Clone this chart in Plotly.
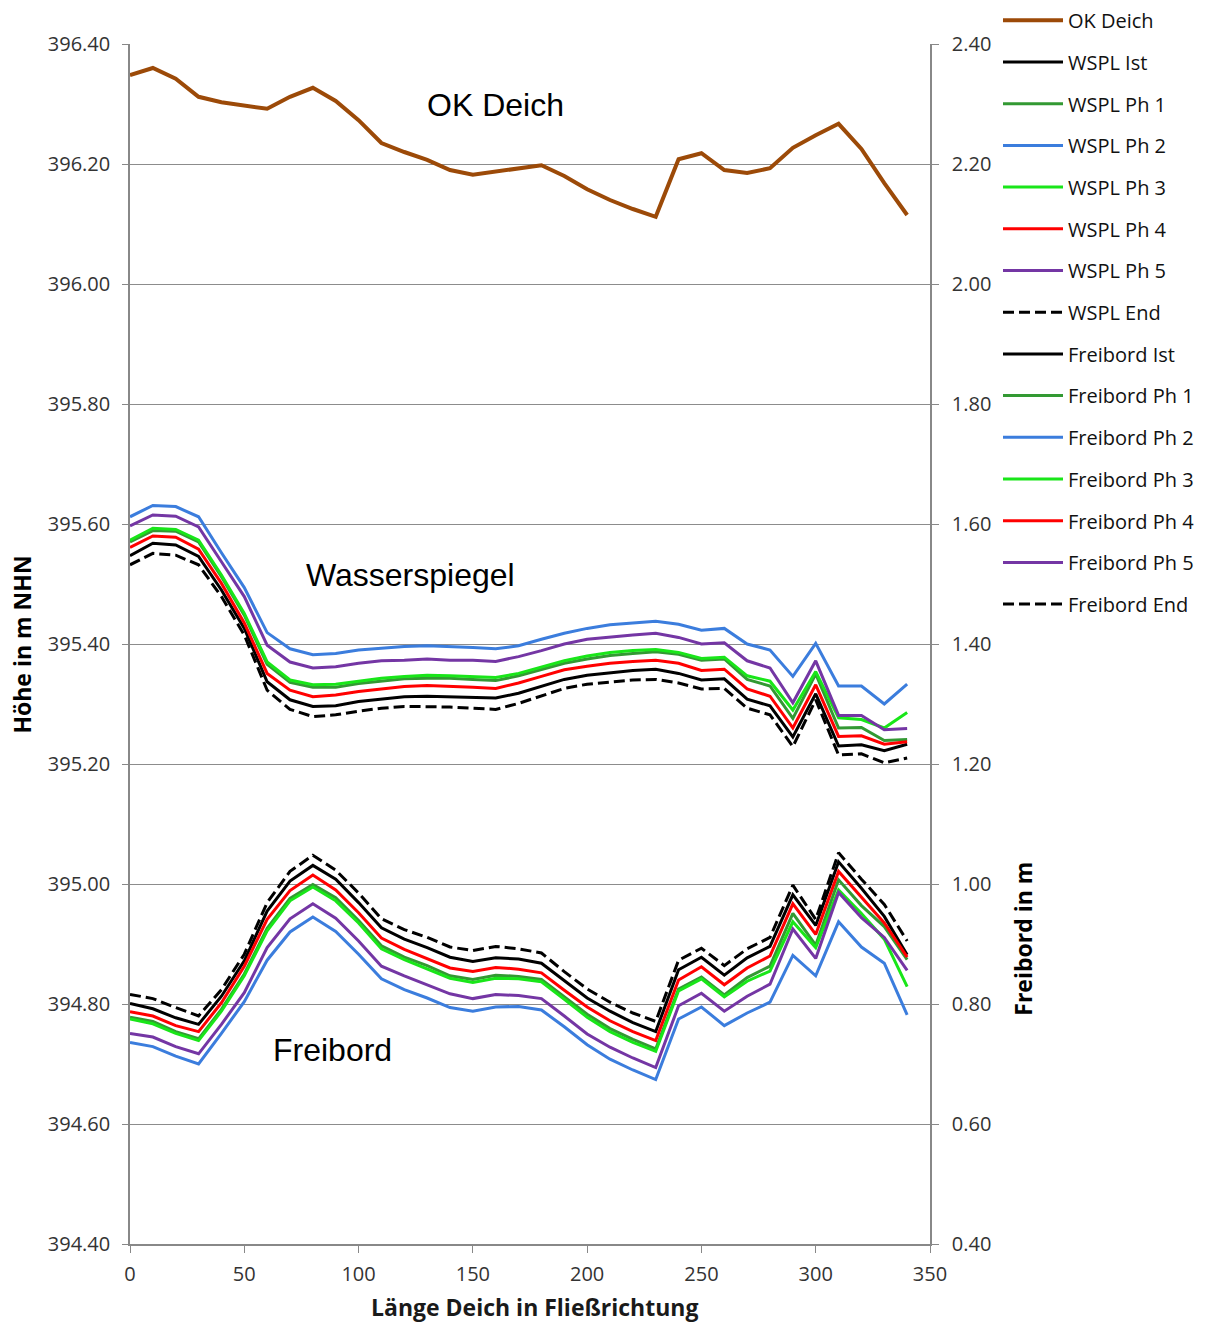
import plotly.graph_objects as go

x_m = [0, 10, 20, 30, 40, 50, 60, 70, 80, 90, 100, 110, 120, 130, 140, 150, 160, 170,
       180, 190, 200, 210, 220, 230, 240, 250, 260, 270, 280, 290, 300, 310, 320, 330, 340]

ok_deich = [396.348, 396.360, 396.342, 396.312, 396.303, 396.298, 396.292, 396.312, 396.327, 396.305,
            396.273, 396.235, 396.220, 396.207, 396.190, 396.182, 396.187, 396.193, 396.198, 396.180,
            396.158, 396.140, 396.125, 396.112, 396.208, 396.218, 396.190, 396.185, 396.193, 396.227,
            396.248, 396.267, 396.225, 396.168, 396.115]

wspl_ist = [395.547, 395.568, 395.565, 395.546, 395.490, 395.426, 395.337, 395.307, 395.296, 395.297,
            395.304, 395.308, 395.312, 395.313, 395.312, 395.311, 395.310, 395.318, 395.330, 395.341,
            395.348, 395.352, 395.356, 395.358, 395.351, 395.340, 395.342, 395.308, 395.297, 395.245,
            395.317, 395.230, 395.232, 395.222, 395.233]
wspl_ph1 = [395.570, 395.589, 395.588, 395.570, 395.512, 395.448, 395.366, 395.336, 395.328, 395.328,
            395.334, 395.338, 395.342, 395.343, 395.343, 395.341, 395.339, 395.347, 395.357, 395.368,
            395.375, 395.381, 395.384, 395.387, 395.383, 395.373, 395.375, 395.341, 395.330, 395.276,
            395.350, 395.260, 395.261, 395.239, 395.241]
wspl_ph2 = [395.612, 395.631, 395.629, 395.612, 395.552, 395.494, 395.419, 395.392, 395.382, 395.384,
            395.390, 395.393, 395.396, 395.397, 395.396, 395.394, 395.392, 395.397, 395.408, 395.418,
            395.426, 395.432, 395.435, 395.438, 395.433, 395.423, 395.426, 395.400, 395.390, 395.346,
            395.401, 395.330, 395.330, 395.300, 395.333]
wspl_ph3 = [395.573, 395.593, 395.591, 395.573, 395.515, 395.451, 395.370, 395.340, 395.332, 395.333,
            395.338, 395.343, 395.346, 395.348, 395.347, 395.346, 395.344, 395.351, 395.361, 395.372,
            395.380, 395.386, 395.389, 395.391, 395.386, 395.376, 395.378, 395.347, 395.338, 395.290,
            395.354, 395.277, 395.274, 395.260, 395.286]
wspl_ph4 = [395.561, 395.580, 395.578, 395.558, 395.501, 395.435, 395.351, 395.323, 395.312, 395.315,
            395.321, 395.325, 395.329, 395.331, 395.330, 395.328, 395.326, 395.335, 395.346, 395.357,
            395.363, 395.368, 395.371, 395.373, 395.368, 395.356, 395.358, 395.325, 395.313, 395.260,
            395.332, 395.246, 395.247, 395.233, 395.237]
wspl_ph5 = [395.597, 395.615, 395.613, 395.595, 395.537, 395.479, 395.398, 395.370, 395.360, 395.362,
            395.368, 395.372, 395.373, 395.375, 395.373, 395.373, 395.371, 395.379, 395.389, 395.400,
            395.408, 395.412, 395.415, 395.418, 395.411, 395.400, 395.402, 395.372, 395.360, 395.302,
            395.372, 395.281, 395.281, 395.257, 395.259]
wspl_end = [395.532, 395.551, 395.548, 395.532, 395.479, 395.415, 395.323, 395.291, 395.279, 395.282,
            395.288, 395.293, 395.296, 395.296, 395.295, 395.293, 395.291, 395.301, 395.313, 395.326,
            395.333, 395.337, 395.340, 395.341, 395.335, 395.325, 395.326, 395.293, 395.282, 395.229,
            395.307, 395.215, 395.217, 395.202, 395.210]

fb_ist = [0.801, 0.792, 0.777, 0.766, 0.813, 0.872, 0.955, 1.005, 1.031, 1.008,
          0.969, 0.927, 0.908, 0.894, 0.878, 0.871, 0.877, 0.875, 0.868, 0.839,
          0.810, 0.788, 0.769, 0.754, 0.857, 0.878, 0.848, 0.877, 0.896, 0.982,
          0.931, 1.037, 0.993, 0.946, 0.882]
fb_ph1 = [0.778, 0.771, 0.754, 0.742, 0.791, 0.850, 0.926, 0.976, 0.999, 0.977,
          0.939, 0.897, 0.878, 0.864, 0.847, 0.841, 0.848, 0.846, 0.841, 0.812,
          0.783, 0.759, 0.741, 0.725, 0.825, 0.845, 0.815, 0.844, 0.863, 0.951,
          0.898, 1.007, 0.964, 0.929, 0.874]
fb_ph2 = [0.736, 0.729, 0.713, 0.700, 0.751, 0.804, 0.873, 0.920, 0.945, 0.921,
          0.883, 0.842, 0.824, 0.810, 0.794, 0.788, 0.795, 0.796, 0.790, 0.762,
          0.732, 0.708, 0.690, 0.674, 0.775, 0.795, 0.764, 0.785, 0.803, 0.881,
          0.847, 0.937, 0.895, 0.868, 0.782]
fb_ph3 = [0.775, 0.767, 0.751, 0.739, 0.788, 0.847, 0.922, 0.972, 0.995, 0.972,
          0.935, 0.892, 0.874, 0.859, 0.843, 0.836, 0.843, 0.842, 0.837, 0.808,
          0.778, 0.754, 0.736, 0.721, 0.822, 0.842, 0.812, 0.838, 0.855, 0.937,
          0.894, 0.990, 0.951, 0.908, 0.829]
fb_ph4 = [0.787, 0.780, 0.764, 0.754, 0.802, 0.863, 0.941, 0.989, 1.015, 0.990,
          0.952, 0.910, 0.891, 0.876, 0.860, 0.854, 0.861, 0.858, 0.852, 0.823,
          0.795, 0.772, 0.754, 0.739, 0.840, 0.862, 0.832, 0.860, 0.880, 0.967,
          0.916, 1.021, 0.978, 0.935, 0.878]
fb_ph5 = [0.751, 0.745, 0.729, 0.717, 0.766, 0.819, 0.894, 0.942, 0.967, 0.943,
          0.905, 0.863, 0.847, 0.832, 0.817, 0.809, 0.816, 0.814, 0.809, 0.780,
          0.750, 0.728, 0.710, 0.694, 0.797, 0.818, 0.788, 0.813, 0.833, 0.925,
          0.876, 0.986, 0.944, 0.911, 0.856]
fb_end = [0.816, 0.809, 0.794, 0.780, 0.824, 0.883, 0.969, 1.021, 1.048, 1.023,
          0.985, 0.942, 0.924, 0.911, 0.895, 0.889, 0.896, 0.892, 0.885, 0.854,
          0.825, 0.803, 0.785, 0.771, 0.873, 0.893, 0.864, 0.892, 0.911, 0.998,
          0.941, 1.052, 1.008, 0.966, 0.905]

left_ticks = [394.4, 394.6, 394.8, 395.0, 395.2, 395.4, 395.6, 395.8, 396.0, 396.2, 396.4]
right_ticks = [0.4, 0.6, 0.8, 1.0, 1.2, 1.4, 1.6, 1.8, 2.0, 2.2, 2.4]
x_ticks = [0, 50, 100, 150, 200, 250, 300, 350]

C_BROWN = "#9C4A08"
C_BLACK = "#000000"
C_DGREEN = "#339933"
C_BLUE = "#3B7DDD"
C_LGREEN = "#19E619"
C_RED = "#FF0000"
C_PURPLE = "#7436A4"
DASH = "11px,5px"

FONT = "Open Sans"
TICKCOL = "#333333"
AXCOL = "#888888"

series = [
    ("OK Deich", ok_deich, C_BROWN, 4, "solid", "y"),
    ("WSPL Ist", wspl_ist, C_BLACK, 3, "solid", "y"),
    ("WSPL Ph 1", wspl_ph1, C_DGREEN, 3, "solid", "y"),
    ("WSPL Ph 2", wspl_ph2, C_BLUE, 3, "solid", "y"),
    ("WSPL Ph 3", wspl_ph3, C_LGREEN, 3, "solid", "y"),
    ("WSPL Ph 4", wspl_ph4, C_RED, 3, "solid", "y"),
    ("WSPL Ph 5", wspl_ph5, C_PURPLE, 3, "solid", "y"),
    ("WSPL End", wspl_end, C_BLACK, 3, DASH, "y"),
    ("Freibord Ist", fb_ist, C_BLACK, 3, "solid", "y2"),
    ("Freibord Ph 1", fb_ph1, C_DGREEN, 3, "solid", "y2"),
    ("Freibord Ph 2", fb_ph2, C_BLUE, 3, "solid", "y2"),
    ("Freibord Ph 3", fb_ph3, C_LGREEN, 3, "solid", "y2"),
    ("Freibord Ph 4", fb_ph4, C_RED, 3, "solid", "y2"),
    ("Freibord Ph 5", fb_ph5, C_PURPLE, 3, "solid", "y2"),
    ("Freibord End", fb_end, C_BLACK, 3, DASH, "y2"),
]

fig = go.Figure()
for i, (name, vals, col, w, dash, ax) in enumerate(series):
    fig.add_trace(go.Scatter(
        x=x_m, y=vals, name=name, mode="lines", yaxis=ax,
        line=dict(color=col, width=w, dash=dash),
        legendgroup="g%d" % i,
    ))

fig.update_layout(
    width=1206, height=1322,
    margin=dict(l=130, r=276, t=44, b=78, autoexpand=False),
    plot_bgcolor="white", paper_bgcolor="white",
    font=dict(family=FONT, size=20, color=TICKCOL),
    showlegend=True,
    legend=dict(
        x=1.085, y=1.036, xanchor="left", yanchor="top",
        font=dict(family=FONT, size=20, color="#111111"),
        tracegroupgap=12.7, itemwidth=60,
        bgcolor="rgba(0,0,0,0)",
    ),
    xaxis=dict(
        range=[0, 350], tickvals=x_ticks, ticks="outside", ticklen=7,
        tickcolor=AXCOL, showline=True, linecolor=AXCOL, linewidth=1.5,
        showgrid=False, zeroline=False, ticklabelstandoff=4,
        tickfont=dict(size=20, color=TICKCOL),
    ),
    yaxis=dict(
        range=[394.4, 396.4], tickvals=left_ticks, tickformat=".2f",
        ticks="outside", ticklen=6, tickcolor=AXCOL, ticklabelstandoff=8,
        showline=True, linecolor=AXCOL, linewidth=1.5,
        showgrid=True, gridcolor="#8c8c8c", gridwidth=1.2, zeroline=False,
        tickfont=dict(size=20, color=TICKCOL),
    ),
    yaxis2=dict(
        range=[0.4, 2.4], tickvals=right_ticks, tickformat=".2f",
        overlaying="y", side="right",
        ticks="outside", ticklen=7, tickcolor=AXCOL, ticklabelstandoff=9,
        showline=True, linecolor=AXCOL, linewidth=1.5,
        showgrid=False, zeroline=False,
        tickfont=dict(size=20, color=TICKCOL),
    ),
    yaxis3=dict(
        range=[0.4, 2.4], tickvals=right_ticks, overlaying="y", side="right",
        ticks="inside", ticklen=7, tickcolor=AXCOL, showticklabels=False,
        showline=False, showgrid=False, zeroline=False,
    ),
)

# axis titles
fig.add_annotation(x=-0.135, y=0.4995, xref="paper", yref="paper", text="<b>Höhe in m NHN</b>",
                   xanchor="center", yanchor="middle",
                   textangle=-90, showarrow=False, font=dict(family=FONT, size=23, color="#000000"))
fig.add_annotation(x=1.1169, y=0.254, xref="paper", yref="paper", text="<b>Freibord in m</b>",
                   xanchor="center", yanchor="middle",
                   textangle=-90, showarrow=False, font=dict(family=FONT, size=23, color="#000000"))
fig.add_annotation(x=0.506, y=-0.0525, xref="paper", yref="paper", text="<b>Länge Deich in Fließrichtung</b>",
                   xanchor="center", yanchor="middle",
                   showarrow=False, font=dict(family=FONT, size=23, color="#1a1a1a"))

# labels inside the plot
fig.add_annotation(x=159.7, y=396.298, xref="x", yref="y", text="OK Deich", showarrow=False,
                   font=dict(family="Liberation Sans", size=32, color="#000000"))
fig.add_annotation(x=122.5, y=395.515, xref="x", yref="y", text="Wasserspiegel", showarrow=False,
                   font=dict(family="Liberation Sans", size=32, color="#000000"))
fig.add_annotation(x=88.8, y=394.723, xref="x", yref="y", text="Freibord", showarrow=False,
                   font=dict(family="Liberation Sans", size=32, color="#000000"))

fig.write_html("out.html")
